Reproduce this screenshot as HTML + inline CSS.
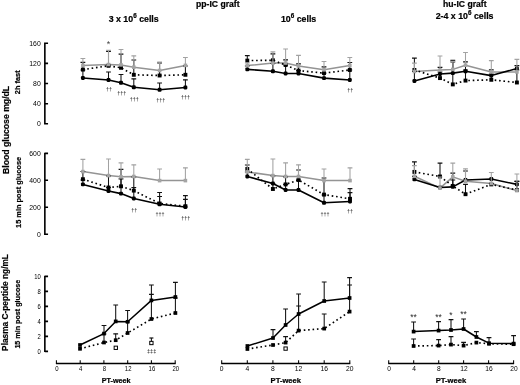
<!DOCTYPE html>
<html lang="en">
<head>
<meta charset="utf-8">
<title>Figure</title>
<style>
html,body{margin:0;padding:0;background:#fff;}
body{width:520px;height:385px;overflow:hidden;}
svg{display:block;font-family:"Liberation Sans",sans-serif;}
</style>
</head>
<body>
<svg width="520" height="385" viewBox="0 0 520 385">
<rect width="520" height="385" fill="#fff"/>
<text transform="translate(217.80,7.10) scale(1.04,1)" font-size="8.3" text-anchor="middle" font-weight="bold" stroke="#000" stroke-width="0.2" fill="#000">pp-IC graft</text>
<text transform="translate(133.70,21.80) scale(1.0,1)" font-size="8.8" text-anchor="middle" font-weight="bold" stroke="#000" stroke-width="0.2" fill="#000">3 x 10<tspan font-size="6.3" dy="-3.6">6</tspan><tspan dy="3.6"> cells</tspan></text>
<text transform="translate(298.60,21.80) scale(1.0,1)" font-size="8.8" text-anchor="middle" font-weight="bold" stroke="#000" stroke-width="0.2" fill="#000">10<tspan font-size="6.3" dy="-3.6">6</tspan><tspan dy="3.6"> cells</tspan></text>
<text transform="translate(464.80,6.90) scale(1.04,1)" font-size="8.3" text-anchor="middle" font-weight="bold" stroke="#000" stroke-width="0.2" fill="#000">hu-IC graft</text>
<text transform="translate(464.60,18.80) scale(1.0,1)" font-size="8.8" text-anchor="middle" font-weight="bold" stroke="#000" stroke-width="0.2" fill="#000">2-4 x 10<tspan font-size="6.3" dy="-3.6">6</tspan><tspan dy="3.6"> cells</tspan></text>
<text transform="translate(8.60,129.90) rotate(-90) scale(1.01,1)" font-size="8.6" text-anchor="middle" font-weight="bold" stroke="#000" stroke-width="0.2" fill="#000">Blood glucose mg/dL</text>
<text transform="translate(19.90,82.30) rotate(-90) scale(1.03,1)" font-size="7.2" text-anchor="middle" font-weight="bold" stroke="#000" stroke-width="0.2" fill="#000">2h fast</text>
<text transform="translate(20.80,192.40) rotate(-90) scale(1.03,1)" font-size="7.2" text-anchor="middle" font-weight="bold" stroke="#000" stroke-width="0.2" fill="#000">15 min post glucose</text>
<text transform="translate(7.90,302.50) rotate(-90) scale(1.0,1)" font-size="8.3" text-anchor="middle" font-weight="bold" stroke="#000" stroke-width="0.2" fill="#000">Plasma C-peptide ng/mL</text>
<text transform="translate(20.00,314.20) rotate(-90) scale(1.01,1)" font-size="7.1" text-anchor="middle" font-weight="bold" stroke="#000" stroke-width="0.2" fill="#000">15 min post glucose</text>
<path d="M44.85 42.5V124.5M44.85 43.2H48.05M44.85 63.4H48.05M44.85 83.5H48.05M44.85 103.7H48.05M44.85 123.8H48.05" stroke="#000" stroke-width="1.6" fill="none"/>
<text transform="translate(40.70,45.65) scale(0.98,1)" font-size="7.0" text-anchor="end" fill="#000">160</text>
<text transform="translate(40.70,65.80) scale(0.98,1)" font-size="7.0" text-anchor="end" fill="#000">120</text>
<text transform="translate(40.70,85.95) scale(0.98,1)" font-size="7.0" text-anchor="end" fill="#000">80</text>
<text transform="translate(40.70,106.10) scale(0.98,1)" font-size="7.0" text-anchor="end" fill="#000">40</text>
<text transform="translate(40.70,126.25) scale(0.98,1)" font-size="7.0" text-anchor="end" fill="#000">0</text>
<path d="M44.85 152.7V234.9M44.85 153.4H48.05M44.85 180.3H48.05M44.85 207.3H48.05M44.85 234.2H48.05" stroke="#000" stroke-width="1.6" fill="none"/>
<text transform="translate(40.70,155.85) scale(0.98,1)" font-size="7.0" text-anchor="end" fill="#000">600</text>
<text transform="translate(40.70,182.75) scale(0.98,1)" font-size="7.0" text-anchor="end" fill="#000">400</text>
<text transform="translate(40.70,209.75) scale(0.98,1)" font-size="7.0" text-anchor="end" fill="#000">200</text>
<text transform="translate(40.70,236.65) scale(0.98,1)" font-size="7.0" text-anchor="end" fill="#000">0</text>
<path d="M44.85 275.7V352.1M44.85 276.4H48.05M44.85 291.4H48.05M44.85 306.4H48.05M44.85 321.4H48.05M44.85 336.4H48.05M44.85 351.4H48.05" stroke="#000" stroke-width="1.6" fill="none"/>
<text transform="translate(40.70,278.67) scale(0.9,1)" font-size="6.5" text-anchor="end" fill="#000">10</text>
<text transform="translate(40.70,293.67) scale(0.9,1)" font-size="6.5" text-anchor="end" fill="#000">8</text>
<text transform="translate(40.70,308.67) scale(0.9,1)" font-size="6.5" text-anchor="end" fill="#000">6</text>
<text transform="translate(40.70,323.67) scale(0.9,1)" font-size="6.5" text-anchor="end" fill="#000">4</text>
<text transform="translate(40.70,338.67) scale(0.9,1)" font-size="6.5" text-anchor="end" fill="#000">2</text>
<text transform="translate(40.70,353.67) scale(0.9,1)" font-size="6.5" text-anchor="end" fill="#000">0</text>
<path d="M55.9 363.5H175.7" stroke="#000" stroke-width="1.4" fill="none"/>
<path d="M56.4 363.5V360.30M80.2 363.5V360.30M103.9 363.5V360.30M127.7 363.5V360.30M151.4 363.5V360.30M175.2 363.5V360.30" stroke="#000" stroke-width="1.05" fill="none"/>
<text transform="translate(56.90,370.90) scale(0.92,1)" font-size="6.5" text-anchor="middle" fill="#000">0</text>
<text transform="translate(80.66,370.90) scale(0.92,1)" font-size="6.5" text-anchor="middle" fill="#000">4</text>
<text transform="translate(104.42,370.90) scale(0.92,1)" font-size="6.5" text-anchor="middle" fill="#000">8</text>
<text transform="translate(128.18,370.90) scale(0.92,1)" font-size="6.5" text-anchor="middle" fill="#000">12</text>
<text transform="translate(151.94,370.90) scale(0.92,1)" font-size="6.5" text-anchor="middle" fill="#000">16</text>
<text transform="translate(175.70,370.90) scale(0.92,1)" font-size="6.5" text-anchor="middle" fill="#000">20</text>
<path d="M221.2 363.5H350.3" stroke="#000" stroke-width="1.4" fill="none"/>
<path d="M221.7 363.5V360.30M247.3 363.5V360.30M272.9 363.5V360.30M298.6 363.5V360.30M324.2 363.5V360.30M349.8 363.5V360.30" stroke="#000" stroke-width="1.05" fill="none"/>
<text transform="translate(221.70,371.14) scale(0.95,1)" font-size="7.1" text-anchor="middle" fill="#000">0</text>
<text transform="translate(247.32,371.14) scale(0.95,1)" font-size="7.1" text-anchor="middle" fill="#000">4</text>
<text transform="translate(272.94,371.14) scale(0.95,1)" font-size="7.1" text-anchor="middle" fill="#000">8</text>
<text transform="translate(298.56,371.14) scale(0.95,1)" font-size="7.1" text-anchor="middle" fill="#000">12</text>
<text transform="translate(324.18,371.14) scale(0.95,1)" font-size="7.1" text-anchor="middle" fill="#000">16</text>
<text transform="translate(349.80,371.14) scale(0.95,1)" font-size="7.1" text-anchor="middle" fill="#000">20</text>
<path d="M388.2 363.5H514.1" stroke="#000" stroke-width="1.4" fill="none"/>
<path d="M388.7 363.5V360.30M413.7 363.5V360.30M438.7 363.5V360.30M463.6 363.5V360.30M488.6 363.5V360.30M513.6 363.5V360.30" stroke="#000" stroke-width="1.05" fill="none"/>
<text transform="translate(389.00,371.10) scale(0.95,1)" font-size="7.0" text-anchor="middle" fill="#000">0</text>
<text transform="translate(413.98,371.10) scale(0.95,1)" font-size="7.0" text-anchor="middle" fill="#000">4</text>
<text transform="translate(438.96,371.10) scale(0.95,1)" font-size="7.0" text-anchor="middle" fill="#000">8</text>
<text transform="translate(463.94,371.10) scale(0.95,1)" font-size="7.0" text-anchor="middle" fill="#000">12</text>
<text transform="translate(488.92,371.10) scale(0.95,1)" font-size="7.0" text-anchor="middle" fill="#000">16</text>
<text transform="translate(513.90,371.10) scale(0.95,1)" font-size="7.0" text-anchor="middle" fill="#000">20</text>
<text transform="translate(116.20,382.60) scale(1.03,1)" font-size="7.0" text-anchor="middle" font-weight="bold" stroke="#000" stroke-width="0.2" fill="#000">PT-week</text>
<text transform="translate(285.80,383.30) scale(1.03,1)" font-size="7.4" text-anchor="middle" font-weight="bold" stroke="#000" stroke-width="0.2" fill="#000">PT-week</text>
<text transform="translate(450.90,383.30) scale(1.03,1)" font-size="7.4" text-anchor="middle" font-weight="bold" stroke="#000" stroke-width="0.2" fill="#000">PT-week</text>
<polyline points="82.9,65.5 108.5,64.5 121.0,64.9 133.8,67.2 159.6,70.5 185.4,65.4" stroke="#949494" stroke-width="1.5" fill="none" stroke-linejoin="round"/>
<path d="M82.9 78.0V70.0M108.5 80.0V72.0M121.0 82.8V74.5M133.8 87.3V78.8M159.6 89.8V83.0M185.4 87.5V79.8" stroke="#111" stroke-width="1.05" fill="none"/>
<path d="M80.5 70.0H85.3M106.1 72.0H110.9M118.6 74.5H123.4M131.4 78.8H136.2M157.2 83.0H162.0M183.0 79.8H187.8" stroke="#111" stroke-width="1.2" fill="none"/>
<path d="M82.9 69.6V62.3M108.5 65.8V51.4M121.0 67.8V54.1M133.8 74.8V60.0M159.6 75.5V62.9M185.4 74.8V66.0" stroke="#111" stroke-width="1.05" fill="none"/>
<path d="M80.5 62.3H85.3M106.1 51.4H110.9M118.6 54.1H123.4M131.4 60.0H136.2M157.2 62.9H162.0M183.0 66.0H187.8" stroke="#111" stroke-width="1.2" fill="none"/>
<polyline points="82.9,69.6 108.5,65.8 121.0,67.8 133.8,74.8 159.6,75.5 185.4,74.8" stroke="#000" stroke-width="1.65" fill="none" stroke-linejoin="round" stroke-dasharray="1.6 2.8"/>
<polyline points="82.9,78.0 108.5,80.0 121.0,82.8 133.8,87.3 159.6,89.8 185.4,87.5" stroke="#000" stroke-width="1.6" fill="none" stroke-linejoin="round"/>
<rect x="80.95" y="67.65" width="3.90" height="3.90" rx="0" fill="#000"/>
<rect x="106.55" y="63.85" width="3.90" height="3.90" rx="0" fill="#000"/>
<rect x="119.05" y="65.85" width="3.90" height="3.90" rx="0" fill="#000"/>
<rect x="131.85" y="72.85" width="3.90" height="3.90" rx="0" fill="#000"/>
<rect x="157.65" y="73.55" width="3.90" height="3.90" rx="0" fill="#000"/>
<rect x="183.45" y="72.85" width="3.90" height="3.90" rx="0" fill="#000"/>
<rect x="80.95" y="76.05" width="3.90" height="3.90" rx="1.1" fill="#000"/>
<rect x="106.55" y="78.05" width="3.90" height="3.90" rx="1.1" fill="#000"/>
<rect x="119.05" y="80.85" width="3.90" height="3.90" rx="1.1" fill="#000"/>
<rect x="131.85" y="85.35" width="3.90" height="3.90" rx="1.1" fill="#000"/>
<rect x="157.65" y="87.85" width="3.90" height="3.90" rx="1.1" fill="#000"/>
<rect x="183.45" y="85.55" width="3.90" height="3.90" rx="1.1" fill="#000"/>
<path d="M82.9 65.5V58.5M108.5 64.5V50.4M121.0 64.9V49.5M133.8 67.2V55.8M159.6 70.5V62.2M185.4 65.4V57.5" stroke="#a2a2a2" stroke-width="1.05" fill="none"/>
<path d="M80.5 58.5H85.3M106.1 50.4H110.9M118.6 49.5H123.4M131.4 55.8H136.2M157.2 62.2H162.0M183.0 57.5H187.8" stroke="#a2a2a2" stroke-width="1.2" fill="none"/>
<rect x="81.11" y="63.71" width="3.59" height="3.59" rx="0" fill="#a4a4a4"/>
<rect x="106.71" y="62.71" width="3.59" height="3.59" rx="0" fill="#a4a4a4"/>
<rect x="119.21" y="63.11" width="3.59" height="3.59" rx="0" fill="#a4a4a4"/>
<rect x="132.01" y="65.41" width="3.59" height="3.59" rx="0" fill="#a4a4a4"/>
<rect x="157.81" y="68.71" width="3.59" height="3.59" rx="0" fill="#a4a4a4"/>
<rect x="183.61" y="63.61" width="3.59" height="3.59" rx="0" fill="#a4a4a4"/>
<text transform="translate(108.50,47.40) scale(1.0,1)" font-size="9.0" text-anchor="middle" fill="#444">*</text>
<text transform="translate(109.10,91.30) scale(1.0,1)" font-size="5.4" text-anchor="middle" font-weight="bold" fill="#4a4a4a">††</text>
<text transform="translate(121.70,94.70) scale(1.0,1)" font-size="5.4" text-anchor="middle" font-weight="bold" fill="#4a4a4a">†††</text>
<text transform="translate(134.20,100.80) scale(1.0,1)" font-size="5.4" text-anchor="middle" font-weight="bold" fill="#4a4a4a">†††</text>
<text transform="translate(160.80,101.70) scale(1.0,1)" font-size="5.4" text-anchor="middle" font-weight="bold" fill="#4a4a4a">†††</text>
<text transform="translate(185.40,98.80) scale(1.0,1)" font-size="5.4" text-anchor="middle" font-weight="bold" fill="#4a4a4a">†††</text>
<polyline points="247.3,65.6 272.9,63.1 285.6,63.0 298.5,66.0 324.0,69.8 349.8,65.6" stroke="#949494" stroke-width="1.5" fill="none" stroke-linejoin="round"/>
<path d="M247.3 69.4V66.0M272.9 71.3V63.5M285.6 73.5V65.0M298.5 73.5V70.6M324.0 78.1V73.1M349.8 80.0V70.0" stroke="#111" stroke-width="1.05" fill="none"/>
<path d="M244.9 66.0H249.7M270.5 63.5H275.3M283.2 65.0H288.0M296.1 70.6H300.9M321.6 73.1H326.4M347.4 70.0H352.2" stroke="#111" stroke-width="1.2" fill="none"/>
<path d="M247.3 60.6V55.6M272.9 60.3V53.8M285.6 65.0V59.8M298.5 70.6V63.8M324.0 73.1V66.9M349.8 70.0V62.5" stroke="#111" stroke-width="1.05" fill="none"/>
<path d="M244.9 55.6H249.7M270.5 53.8H275.3M283.2 59.8H288.0M296.1 63.8H300.9M321.6 66.9H326.4M347.4 62.5H352.2" stroke="#111" stroke-width="1.2" fill="none"/>
<polyline points="247.3,60.6 272.9,60.3 285.6,65.0 298.5,70.6 324.0,73.1 349.8,70.0" stroke="#000" stroke-width="1.65" fill="none" stroke-linejoin="round" stroke-dasharray="1.6 2.8"/>
<polyline points="247.3,69.4 272.9,71.3 285.6,73.5 298.5,73.5 324.0,78.1 349.8,80.0" stroke="#000" stroke-width="1.6" fill="none" stroke-linejoin="round"/>
<rect x="245.35" y="58.65" width="3.90" height="3.90" rx="0" fill="#000"/>
<rect x="270.95" y="58.35" width="3.90" height="3.90" rx="0" fill="#000"/>
<rect x="283.65" y="63.05" width="3.90" height="3.90" rx="0" fill="#000"/>
<rect x="296.55" y="68.65" width="3.90" height="3.90" rx="0" fill="#000"/>
<rect x="322.05" y="71.15" width="3.90" height="3.90" rx="0" fill="#000"/>
<rect x="347.85" y="68.05" width="3.90" height="3.90" rx="0" fill="#000"/>
<rect x="245.35" y="67.45" width="3.90" height="3.90" rx="1.1" fill="#000"/>
<rect x="270.95" y="69.35" width="3.90" height="3.90" rx="1.1" fill="#000"/>
<rect x="283.65" y="71.55" width="3.90" height="3.90" rx="1.1" fill="#000"/>
<rect x="296.55" y="71.55" width="3.90" height="3.90" rx="1.1" fill="#000"/>
<rect x="322.05" y="76.15" width="3.90" height="3.90" rx="1.1" fill="#000"/>
<rect x="347.85" y="78.05" width="3.90" height="3.90" rx="1.1" fill="#000"/>
<path d="M247.3 65.6V63.0M272.9 63.1V51.9M285.6 63.0V49.0M298.5 66.0V55.3M324.0 69.8V61.5M349.8 65.6V57.5" stroke="#a2a2a2" stroke-width="1.05" fill="none"/>
<path d="M244.9 63.0H249.7M270.5 51.9H275.3M283.2 49.0H288.0M296.1 55.3H300.9M321.6 61.5H326.4M347.4 57.5H352.2" stroke="#a2a2a2" stroke-width="1.2" fill="none"/>
<rect x="245.51" y="63.81" width="3.59" height="3.59" rx="0" fill="#a4a4a4"/>
<rect x="271.11" y="61.31" width="3.59" height="3.59" rx="0" fill="#a4a4a4"/>
<rect x="283.81" y="61.21" width="3.59" height="3.59" rx="0" fill="#a4a4a4"/>
<rect x="296.71" y="64.21" width="3.59" height="3.59" rx="0" fill="#a4a4a4"/>
<rect x="322.21" y="68.01" width="3.59" height="3.59" rx="0" fill="#a4a4a4"/>
<rect x="348.01" y="63.81" width="3.59" height="3.59" rx="0" fill="#a4a4a4"/>
<text transform="translate(350.30,92.00) scale(1.0,1)" font-size="5.4" text-anchor="middle" font-weight="bold" fill="#4a4a4a">††</text>
<polyline points="414.4,71.5 440.0,70.0 452.8,69.4 465.5,65.2 491.3,71.9 516.9,71.9" stroke="#949494" stroke-width="1.5" fill="none" stroke-linejoin="round"/>
<path d="M414.4 81.0V71.5M440.0 74.0V67.3M452.8 73.1V60.3M465.5 71.3V61.9M491.3 75.6V69.8M516.9 68.5V65.6" stroke="#111" stroke-width="1.05" fill="none"/>
<path d="M412.0 71.5H416.8M437.6 67.3H442.4M450.4 60.3H455.2M463.1 61.9H467.9M488.9 69.8H493.7M514.5 65.6H519.3" stroke="#111" stroke-width="1.2" fill="none"/>
<path d="M414.4 70.0V58.1M440.0 78.1V72.0M452.8 84.4V62.0M465.5 80.6V70.0M491.3 79.8V74.0M516.9 82.5V70.0" stroke="#111" stroke-width="1.05" fill="none"/>
<path d="M412.0 58.1H416.8M437.6 72.0H442.4M450.4 62.0H455.2M463.1 70.0H467.9M488.9 74.0H493.7M514.5 70.0H519.3" stroke="#111" stroke-width="1.2" fill="none"/>
<polyline points="414.4,70.0 440.0,78.1 452.8,84.4 465.5,80.6 491.3,79.8 516.9,82.5" stroke="#000" stroke-width="1.65" fill="none" stroke-linejoin="round" stroke-dasharray="1.6 2.8"/>
<polyline points="414.4,81.0 440.0,74.0 452.8,73.1 465.5,71.3 491.3,75.6 516.9,68.5" stroke="#000" stroke-width="1.6" fill="none" stroke-linejoin="round"/>
<rect x="412.45" y="68.05" width="3.90" height="3.90" rx="0" fill="#000"/>
<rect x="438.05" y="76.15" width="3.90" height="3.90" rx="0" fill="#000"/>
<rect x="450.85" y="82.45" width="3.90" height="3.90" rx="0" fill="#000"/>
<rect x="463.55" y="78.65" width="3.90" height="3.90" rx="0" fill="#000"/>
<rect x="489.35" y="77.85" width="3.90" height="3.90" rx="0" fill="#000"/>
<rect x="514.95" y="80.55" width="3.90" height="3.90" rx="0" fill="#000"/>
<rect x="412.45" y="79.05" width="3.90" height="3.90" rx="1.1" fill="#000"/>
<rect x="438.05" y="72.05" width="3.90" height="3.90" rx="1.1" fill="#000"/>
<rect x="450.85" y="71.15" width="3.90" height="3.90" rx="1.1" fill="#000"/>
<rect x="463.55" y="69.35" width="3.90" height="3.90" rx="1.1" fill="#000"/>
<rect x="489.35" y="73.65" width="3.90" height="3.90" rx="1.1" fill="#000"/>
<rect x="514.95" y="66.55" width="3.90" height="3.90" rx="1.1" fill="#000"/>
<path d="M414.4 71.5V63.1M440.0 70.0V56.0M452.8 69.4V61.3M465.5 65.2V52.5M491.3 71.9V60.6M516.9 71.9V59.4" stroke="#a2a2a2" stroke-width="1.05" fill="none"/>
<path d="M412.0 63.1H416.8M437.6 56.0H442.4M450.4 61.3H455.2M463.1 52.5H467.9M488.9 60.6H493.7M514.5 59.4H519.3" stroke="#a2a2a2" stroke-width="1.2" fill="none"/>
<rect x="412.61" y="69.71" width="3.59" height="3.59" rx="0" fill="#a4a4a4"/>
<rect x="438.21" y="68.21" width="3.59" height="3.59" rx="0" fill="#a4a4a4"/>
<rect x="451.01" y="67.61" width="3.59" height="3.59" rx="0" fill="#a4a4a4"/>
<rect x="463.71" y="63.41" width="3.59" height="3.59" rx="0" fill="#a4a4a4"/>
<rect x="489.51" y="70.11" width="3.59" height="3.59" rx="0" fill="#a4a4a4"/>
<rect x="515.11" y="70.11" width="3.59" height="3.59" rx="0" fill="#a4a4a4"/>
<polyline points="82.9,171.6 108.5,175.6 121.0,176.8 133.8,176.5 159.6,180.6 185.4,180.6" stroke="#949494" stroke-width="1.5" fill="none" stroke-linejoin="round"/>
<path d="M82.9 184.4V180.0M108.5 191.0V187.5M121.0 193.6V178.8M133.8 198.5V177.0M159.6 204.3V196.5M185.4 207.0V199.4" stroke="#111" stroke-width="1.05" fill="none"/>
<path d="M80.5 180.0H85.3M106.1 187.5H110.9M118.6 178.8H123.4M131.4 177.0H136.2M157.2 196.5H162.0M183.0 199.4H187.8" stroke="#111" stroke-width="1.2" fill="none"/>
<path d="M82.9 179.2V171.5M108.5 187.5V176.0M121.0 186.3V169.4M133.8 190.6V187.5M159.6 203.5V192.5M185.4 206.2V195.6" stroke="#111" stroke-width="1.05" fill="none"/>
<path d="M80.5 171.5H85.3M106.1 176.0H110.9M118.6 169.4H123.4M131.4 187.5H136.2M157.2 192.5H162.0M183.0 195.6H187.8" stroke="#111" stroke-width="1.2" fill="none"/>
<polyline points="82.9,179.2 108.5,187.5 121.0,186.3 133.8,190.6 159.6,203.5 185.4,206.2" stroke="#000" stroke-width="1.65" fill="none" stroke-linejoin="round" stroke-dasharray="1.6 2.8"/>
<polyline points="82.9,184.4 108.5,191.0 121.0,193.6 133.8,198.5 159.6,204.3 185.4,207.0" stroke="#000" stroke-width="1.6" fill="none" stroke-linejoin="round"/>
<rect x="80.95" y="177.25" width="3.90" height="3.90" rx="0" fill="#000"/>
<rect x="106.55" y="185.55" width="3.90" height="3.90" rx="0" fill="#000"/>
<rect x="119.05" y="184.35" width="3.90" height="3.90" rx="0" fill="#000"/>
<rect x="131.85" y="188.65" width="3.90" height="3.90" rx="0" fill="#000"/>
<rect x="157.65" y="201.55" width="3.90" height="3.90" rx="0" fill="#000"/>
<rect x="183.45" y="204.25" width="3.90" height="3.90" rx="0" fill="#000"/>
<rect x="80.95" y="182.45" width="3.90" height="3.90" rx="1.1" fill="#000"/>
<rect x="106.55" y="189.05" width="3.90" height="3.90" rx="1.1" fill="#000"/>
<rect x="119.05" y="191.65" width="3.90" height="3.90" rx="1.1" fill="#000"/>
<rect x="131.85" y="196.55" width="3.90" height="3.90" rx="1.1" fill="#000"/>
<rect x="157.65" y="202.35" width="3.90" height="3.90" rx="1.1" fill="#000"/>
<rect x="183.45" y="205.05" width="3.90" height="3.90" rx="1.1" fill="#000"/>
<path d="M82.9 171.6V159.4M108.5 175.6V159.0M121.0 176.8V162.9M133.8 176.5V164.8M159.6 180.6V169.0M185.4 180.6V167.8" stroke="#a2a2a2" stroke-width="1.05" fill="none"/>
<path d="M80.5 159.4H85.3M106.1 159.0H110.9M118.6 162.9H123.4M131.4 164.8H136.2M157.2 169.0H162.0M183.0 167.8H187.8" stroke="#a2a2a2" stroke-width="1.2" fill="none"/>
<rect x="81.11" y="169.81" width="3.59" height="3.59" rx="0" fill="#a4a4a4"/>
<rect x="106.71" y="173.81" width="3.59" height="3.59" rx="0" fill="#a4a4a4"/>
<rect x="119.21" y="175.01" width="3.59" height="3.59" rx="0" fill="#a4a4a4"/>
<rect x="132.01" y="174.71" width="3.59" height="3.59" rx="0" fill="#a4a4a4"/>
<rect x="157.81" y="178.81" width="3.59" height="3.59" rx="0" fill="#a4a4a4"/>
<rect x="183.61" y="178.81" width="3.59" height="3.59" rx="0" fill="#a4a4a4"/>
<text transform="translate(134.20,212.20) scale(1.0,1)" font-size="5.4" text-anchor="middle" font-weight="bold" fill="#4a4a4a">††</text>
<text transform="translate(159.90,215.70) scale(1.0,1)" font-size="5.4" text-anchor="middle" font-weight="bold" fill="#4a4a4a">†††</text>
<text transform="translate(185.70,219.50) scale(1.0,1)" font-size="5.4" text-anchor="middle" font-weight="bold" fill="#4a4a4a">†††</text>
<polyline points="247.3,171.9 272.9,175.6 285.6,176.5 298.5,176.5 324.0,180.6 350.0,180.6" stroke="#949494" stroke-width="1.5" fill="none" stroke-linejoin="round"/>
<path d="M247.3 176.5V172.0M272.9 183.5V176.0M285.6 190.0V184.4M298.5 190.0V180.0M324.0 202.8V195.0M350.0 201.5V192.7" stroke="#111" stroke-width="1.05" fill="none"/>
<path d="M244.9 172.0H249.7M270.5 176.0H275.3M283.2 184.4H288.0M296.1 180.0H300.9M321.6 195.0H326.4M347.6 192.7H352.4" stroke="#111" stroke-width="1.2" fill="none"/>
<path d="M247.3 169.0V165.0M272.9 189.0V183.5M285.6 184.4V177.0M298.5 180.0V170.0M324.0 194.6V178.0M350.0 198.8V188.6" stroke="#111" stroke-width="1.05" fill="none"/>
<path d="M244.9 165.0H249.7M270.5 183.5H275.3M283.2 177.0H288.0M296.1 170.0H300.9M321.6 178.0H326.4M347.6 188.6H352.4" stroke="#111" stroke-width="1.2" fill="none"/>
<polyline points="247.3,169.0 272.9,189.0 285.6,184.4 298.5,180.0 324.0,194.6 350.0,198.8" stroke="#000" stroke-width="1.65" fill="none" stroke-linejoin="round" stroke-dasharray="1.6 2.8"/>
<polyline points="247.3,176.5 272.9,183.5 285.6,190.0 298.5,190.0 324.0,202.8 350.0,201.5" stroke="#000" stroke-width="1.6" fill="none" stroke-linejoin="round"/>
<rect x="245.35" y="167.05" width="3.90" height="3.90" rx="0" fill="#000"/>
<rect x="270.95" y="187.05" width="3.90" height="3.90" rx="0" fill="#000"/>
<rect x="283.65" y="182.45" width="3.90" height="3.90" rx="0" fill="#000"/>
<rect x="296.55" y="178.05" width="3.90" height="3.90" rx="0" fill="#000"/>
<rect x="322.05" y="192.65" width="3.90" height="3.90" rx="0" fill="#000"/>
<rect x="348.05" y="196.85" width="3.90" height="3.90" rx="0" fill="#000"/>
<rect x="245.35" y="174.55" width="3.90" height="3.90" rx="1.1" fill="#000"/>
<rect x="270.95" y="181.55" width="3.90" height="3.90" rx="1.1" fill="#000"/>
<rect x="283.65" y="188.05" width="3.90" height="3.90" rx="1.1" fill="#000"/>
<rect x="296.55" y="188.05" width="3.90" height="3.90" rx="1.1" fill="#000"/>
<rect x="322.05" y="200.85" width="3.90" height="3.90" rx="1.1" fill="#000"/>
<rect x="348.05" y="199.55" width="3.90" height="3.90" rx="1.1" fill="#000"/>
<path d="M247.3 171.9V159.4M272.9 175.6V159.0M285.6 176.5V162.9M298.5 176.5V164.8M324.0 180.6V169.0M350.0 180.6V167.8" stroke="#a2a2a2" stroke-width="1.05" fill="none"/>
<path d="M244.9 159.4H249.7M270.5 159.0H275.3M283.2 162.9H288.0M296.1 164.8H300.9M321.6 169.0H326.4M347.6 167.8H352.4" stroke="#a2a2a2" stroke-width="1.2" fill="none"/>
<rect x="245.51" y="170.11" width="3.59" height="3.59" rx="0" fill="#a4a4a4"/>
<rect x="271.11" y="173.81" width="3.59" height="3.59" rx="0" fill="#a4a4a4"/>
<rect x="283.81" y="174.71" width="3.59" height="3.59" rx="0" fill="#a4a4a4"/>
<rect x="296.71" y="174.71" width="3.59" height="3.59" rx="0" fill="#a4a4a4"/>
<rect x="322.21" y="178.81" width="3.59" height="3.59" rx="0" fill="#a4a4a4"/>
<rect x="348.21" y="178.81" width="3.59" height="3.59" rx="0" fill="#a4a4a4"/>
<text transform="translate(325.00,215.70) scale(1.0,1)" font-size="5.4" text-anchor="middle" font-weight="bold" fill="#4a4a4a">†††</text>
<text transform="translate(349.90,213.20) scale(1.0,1)" font-size="5.4" text-anchor="middle" font-weight="bold" fill="#4a4a4a">††</text>
<polyline points="414.4,176.3 440.0,188.1 452.8,176.9 465.5,181.3 491.3,183.5 516.9,190.6" stroke="#949494" stroke-width="1.5" fill="none" stroke-linejoin="round"/>
<path d="M414.4 179.4V176.3M452.8 186.9V173.1M465.5 180.0V171.0M516.9 184.4V181.3" stroke="#111" stroke-width="1.05" fill="none"/>
<path d="M412.0 176.3H416.8M450.4 173.1H455.2M463.1 171.0H467.9M514.5 181.3H519.3" stroke="#111" stroke-width="1.2" fill="none"/>
<path d="M414.4 171.9V161.9M440.0 176.5V163.1M452.8 186.0V180.0M465.5 194.2V184.4M491.3 184.4V183.5M516.9 190.0V181.3" stroke="#111" stroke-width="1.05" fill="none"/>
<path d="M412.0 161.9H416.8M437.6 163.1H442.4M450.4 180.0H455.2M463.1 184.4H467.9M488.9 183.5H493.7M514.5 181.3H519.3" stroke="#111" stroke-width="1.2" fill="none"/>
<polyline points="414.4,171.9 440.0,176.5 452.8,186.0 465.5,194.2 491.3,184.4 516.9,190.0" stroke="#000" stroke-width="1.65" fill="none" stroke-linejoin="round" stroke-dasharray="1.6 2.8"/>
<polyline points="414.4,179.4 440.0,187.5 452.8,186.9 465.5,180.0 491.3,179.0 516.9,184.4" stroke="#000" stroke-width="1.6" fill="none" stroke-linejoin="round"/>
<rect x="412.45" y="169.95" width="3.90" height="3.90" rx="0" fill="#000"/>
<rect x="438.05" y="174.55" width="3.90" height="3.90" rx="0" fill="#000"/>
<rect x="450.85" y="184.05" width="3.90" height="3.90" rx="0" fill="#000"/>
<rect x="463.55" y="192.25" width="3.90" height="3.90" rx="0" fill="#000"/>
<rect x="489.35" y="182.45" width="3.90" height="3.90" rx="0" fill="#000"/>
<rect x="514.95" y="188.05" width="3.90" height="3.90" rx="0" fill="#000"/>
<rect x="412.45" y="177.45" width="3.90" height="3.90" rx="1.1" fill="#000"/>
<rect x="438.05" y="185.55" width="3.90" height="3.90" rx="1.1" fill="#000"/>
<rect x="450.85" y="184.95" width="3.90" height="3.90" rx="1.1" fill="#000"/>
<rect x="463.55" y="178.05" width="3.90" height="3.90" rx="1.1" fill="#000"/>
<rect x="489.35" y="177.05" width="3.90" height="3.90" rx="1.1" fill="#000"/>
<rect x="514.95" y="182.45" width="3.90" height="3.90" rx="1.1" fill="#000"/>
<path d="M414.4 176.3V165.6M440.0 188.1V177.0M452.8 176.9V163.1M465.5 181.3V168.8M491.3 183.5V172.5M516.9 190.6V174.0" stroke="#a2a2a2" stroke-width="1.05" fill="none"/>
<path d="M412.0 165.6H416.8M437.6 177.0H442.4M450.4 163.1H455.2M463.1 168.8H467.9M488.9 172.5H493.7M514.5 174.0H519.3" stroke="#a2a2a2" stroke-width="1.2" fill="none"/>
<rect x="412.61" y="174.51" width="3.59" height="3.59" rx="0" fill="#a4a4a4"/>
<rect x="438.21" y="186.31" width="3.59" height="3.59" rx="0" fill="#a4a4a4"/>
<rect x="451.01" y="175.11" width="3.59" height="3.59" rx="0" fill="#a4a4a4"/>
<rect x="463.71" y="179.51" width="3.59" height="3.59" rx="0" fill="#a4a4a4"/>
<rect x="489.51" y="181.71" width="3.59" height="3.59" rx="0" fill="#a4a4a4"/>
<rect x="515.11" y="188.81" width="3.59" height="3.59" rx="0" fill="#a4a4a4"/>
<path d="M104.0 333.6V325.5M115.7 321.4V305.0M127.6 321.8V310.5M151.4 300.4V285.0M175.4 297.0V282.4" stroke="#111" stroke-width="1.05" fill="none"/>
<path d="M101.6 325.5H106.4M113.3 305.0H118.1M125.2 310.5H130.0M149.0 285.0H153.8M173.0 282.4H177.8" stroke="#111" stroke-width="1.2" fill="none"/>
<path d="M104.0 342.5V334.0M115.7 340.2V333.8M127.6 333.0V322.0M151.4 319.0V294.4M175.4 313.0V298.0" stroke="#111" stroke-width="1.05" fill="none"/>
<path d="M101.6 334.0H106.4M113.3 333.8H118.1M125.2 322.0H130.0M149.0 294.4H153.8M173.0 298.0H177.8" stroke="#111" stroke-width="1.2" fill="none"/>
<polyline points="80.0,348.8 104.0,342.5 115.7,340.2 127.6,333.0 151.4,319.0 175.4,313.0" stroke="#000" stroke-width="1.65" fill="none" stroke-linejoin="round" stroke-dasharray="1.6 2.8"/>
<polyline points="80.0,345.0 104.0,333.6 115.7,321.4 127.6,321.8 151.4,300.4 175.4,297.0" stroke="#000" stroke-width="1.5" fill="none" stroke-linejoin="round"/>
<rect x="78.15" y="346.95" width="3.70" height="3.70" rx="0" fill="#000"/>
<rect x="102.15" y="340.65" width="3.70" height="3.70" rx="0" fill="#000"/>
<rect x="113.85" y="338.35" width="3.70" height="3.70" rx="0" fill="#000"/>
<rect x="125.75" y="331.15" width="3.70" height="3.70" rx="0" fill="#000"/>
<rect x="149.55" y="317.15" width="3.70" height="3.70" rx="0" fill="#000"/>
<rect x="173.55" y="311.15" width="3.70" height="3.70" rx="0" fill="#000"/>
<rect x="78.15" y="343.15" width="3.70" height="3.70" rx="0" fill="#000"/>
<rect x="102.15" y="331.75" width="3.70" height="3.70" rx="0" fill="#000"/>
<rect x="113.85" y="319.55" width="3.70" height="3.70" rx="0" fill="#000"/>
<rect x="125.75" y="319.95" width="3.70" height="3.70" rx="0" fill="#000"/>
<rect x="149.55" y="298.55" width="3.70" height="3.70" rx="0" fill="#000"/>
<rect x="173.55" y="295.15" width="3.70" height="3.70" rx="0" fill="#000"/>
<path d="M151.4 343.0V338.0" stroke="#111" stroke-width="1.05" fill="none"/>
<path d="M149.4 338.0H153.4" stroke="#111" stroke-width="1.2" fill="none"/>
<rect x="114.15" y="346.15" width="3.3" height="3.3" fill="#fff" stroke="#000" stroke-width="1.0"/>
<rect x="149.75" y="341.35" width="3.3" height="3.3" fill="#fff" stroke="#000" stroke-width="1.0"/>
<text transform="translate(151.60,353.20) scale(1.0,1)" font-size="5.6" text-anchor="middle" font-weight="bold" fill="#444">‡‡‡</text>
<path d="M273.0 338.0V329.6M285.6 325.0V309.0M298.6 314.0V294.0M324.2 301.0V282.0M349.6 298.0V277.6" stroke="#111" stroke-width="1.05" fill="none"/>
<path d="M270.6 329.6H275.4M283.2 309.0H288.0M296.2 294.0H301.0M321.8 282.0H326.6M347.2 277.6H352.0" stroke="#111" stroke-width="1.2" fill="none"/>
<path d="M285.6 342.6V336.6M298.6 330.6V306.0M324.2 328.6V314.0M349.6 311.6V285.0" stroke="#111" stroke-width="1.05" fill="none"/>
<path d="M283.2 336.6H288.0M296.2 306.0H301.0M321.8 314.0H326.6M347.2 285.0H352.0" stroke="#111" stroke-width="1.2" fill="none"/>
<polyline points="247.4,349.0 273.0,345.0 285.6,342.6 298.6,330.6 324.2,328.6 349.6,311.6" stroke="#000" stroke-width="1.65" fill="none" stroke-linejoin="round" stroke-dasharray="1.6 2.8"/>
<polyline points="247.4,346.0 273.0,338.0 285.6,325.0 298.6,314.0 324.2,301.0 349.6,298.0" stroke="#000" stroke-width="1.5" fill="none" stroke-linejoin="round"/>
<rect x="245.55" y="347.15" width="3.70" height="3.70" rx="0" fill="#000"/>
<rect x="271.15" y="343.15" width="3.70" height="3.70" rx="0" fill="#000"/>
<rect x="283.75" y="340.75" width="3.70" height="3.70" rx="0" fill="#000"/>
<rect x="296.75" y="328.75" width="3.70" height="3.70" rx="0" fill="#000"/>
<rect x="322.35" y="326.75" width="3.70" height="3.70" rx="0" fill="#000"/>
<rect x="347.75" y="309.75" width="3.70" height="3.70" rx="0" fill="#000"/>
<rect x="245.55" y="344.15" width="3.70" height="3.70" rx="0" fill="#000"/>
<rect x="271.15" y="336.15" width="3.70" height="3.70" rx="0" fill="#000"/>
<rect x="283.75" y="323.15" width="3.70" height="3.70" rx="0" fill="#000"/>
<rect x="296.75" y="312.15" width="3.70" height="3.70" rx="0" fill="#000"/>
<rect x="322.35" y="299.15" width="3.70" height="3.70" rx="0" fill="#000"/>
<rect x="347.75" y="296.15" width="3.70" height="3.70" rx="0" fill="#000"/>
<rect x="283.95" y="346.95" width="3.3" height="3.3" fill="#fff" stroke="#000" stroke-width="1.0"/>
<path d="M413.6 331.6V322.0M438.6 330.6V321.6M451.0 330.0V319.6M463.6 329.0V319.0M476.4 337.0V331.6M489.0 343.2V337.6M513.6 343.6V335.6" stroke="#111" stroke-width="1.05" fill="none"/>
<path d="M411.2 322.0H416.0M436.2 321.6H441.0M448.6 319.6H453.4M461.2 319.0H466.0M474.0 331.6H478.8M486.6 337.6H491.4M511.2 335.6H516.0" stroke="#111" stroke-width="1.2" fill="none"/>
<path d="M413.6 346.0V339.0M438.6 345.6V339.6M451.0 344.6V336.6M463.6 345.6V342.4" stroke="#111" stroke-width="1.05" fill="none"/>
<path d="M411.2 339.0H416.0M436.2 339.6H441.0M448.6 336.6H453.4M461.2 342.4H466.0" stroke="#111" stroke-width="1.2" fill="none"/>
<polyline points="413.6,346.0 438.6,345.6 451.0,344.6 463.6,345.6 476.4,342.6 489.0,343.8 513.6,344.2" stroke="#000" stroke-width="1.65" fill="none" stroke-linejoin="round" stroke-dasharray="1.6 2.8"/>
<polyline points="413.6,331.6 438.6,330.6 451.0,330.0 463.6,329.0 476.4,337.0 489.0,343.2 513.6,343.6" stroke="#000" stroke-width="1.5" fill="none" stroke-linejoin="round"/>
<rect x="411.75" y="344.15" width="3.70" height="3.70" rx="0" fill="#000"/>
<rect x="436.75" y="343.75" width="3.70" height="3.70" rx="0" fill="#000"/>
<rect x="449.15" y="342.75" width="3.70" height="3.70" rx="0" fill="#000"/>
<rect x="461.75" y="343.75" width="3.70" height="3.70" rx="0" fill="#000"/>
<rect x="474.55" y="340.75" width="3.70" height="3.70" rx="0" fill="#000"/>
<rect x="487.15" y="341.95" width="3.70" height="3.70" rx="0" fill="#000"/>
<rect x="511.75" y="342.35" width="3.70" height="3.70" rx="0" fill="#000"/>
<rect x="411.75" y="329.75" width="3.70" height="3.70" rx="0" fill="#000"/>
<rect x="436.75" y="328.75" width="3.70" height="3.70" rx="0" fill="#000"/>
<rect x="449.15" y="328.15" width="3.70" height="3.70" rx="0" fill="#000"/>
<rect x="461.75" y="327.15" width="3.70" height="3.70" rx="0" fill="#000"/>
<rect x="474.55" y="335.15" width="3.70" height="3.70" rx="0" fill="#000"/>
<rect x="487.15" y="341.35" width="3.70" height="3.70" rx="0" fill="#000"/>
<rect x="511.75" y="341.75" width="3.70" height="3.70" rx="0" fill="#000"/>
<text transform="translate(413.60,319.70) scale(1.0,1)" font-size="8.5" text-anchor="middle" fill="#2a2a2a">**</text>
<text transform="translate(438.60,319.70) scale(1.0,1)" font-size="8.5" text-anchor="middle" fill="#2a2a2a">**</text>
<text transform="translate(451.00,317.70) scale(1.0,1)" font-size="8.5" text-anchor="middle" fill="#2a2a2a">*</text>
<text transform="translate(463.60,316.50) scale(1.0,1)" font-size="8.5" text-anchor="middle" fill="#2a2a2a">**</text>
</svg>
</body>
</html>
